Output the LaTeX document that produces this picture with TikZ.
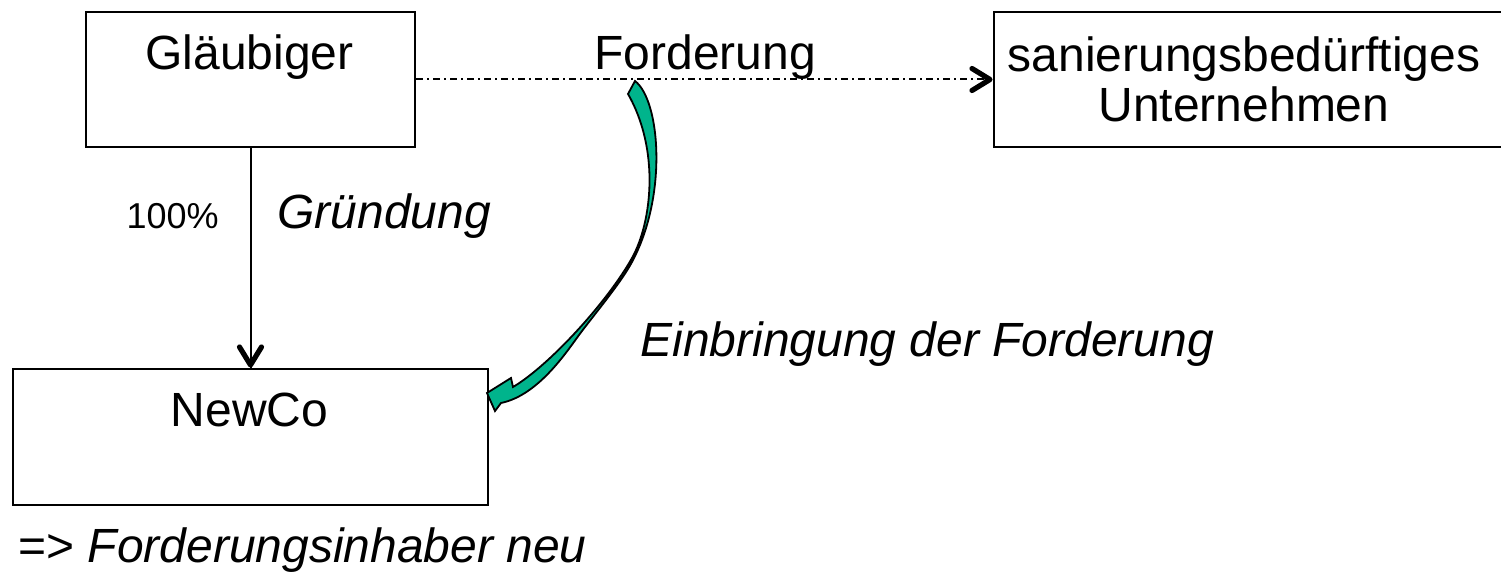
\documentclass[tikz,border=0pt]{standalone}
\usepackage{fontspec}
\setmainfont{Liberation Sans}
\usetikzlibrary{arrows.meta}
\definecolor{arrowgreen}{RGB}{0,180,140}
\begin{document}
\begin{tikzpicture}[x=0.5pt,y=-0.5pt,
  box/.style={draw=black, line width=1pt, inner sep=0pt, anchor=north west},
  lbl/.style={inner sep=0pt, font=\fontsize{24}{28}\selectfont},
  small/.style={inner sep=0pt, font=\fontsize{18}{21}\selectfont},
  tiphead/.style={draw=black, line width=2.6pt, line cap=round, line join=round},
  dashdot/.style={line width=1pt, dash pattern=on 3.5pt off 2pt on 1pt off 2pt}]
\useasboundingbox (0,0) rectangle (1501,576);
% boxes
\node[box, minimum width=164.5pt, minimum height=67.5pt] (g) at (85,11) {};
\node[box, minimum width=237.5pt, minimum height=68pt] (n) at (12,368) {};
\node[box, minimum width=255pt, minimum height=67.5pt] (s) at (993,11) {};
% box texts
\node[lbl, anchor=base] (gt) at (249.5,70) {Gläubiger};
\node[lbl, anchor=base] (nt) at (249.5,427) {NewCo};
\node[lbl, anchor=base] (st1) at (1244,72) {sanierungsbedürftiges};
\node[lbl, anchor=base] (st2) at (1244,122) {Unternehmen};
% labels
\node[lbl, anchor=base west] (ford) at (594,70) {Forderung};
\node[small, anchor=base east] (pct) at (219,229) {100\%};
\node[lbl, anchor=base west] (gruend) at (277,229) {\itshape Gründung};
\node[lbl, anchor=base west] (einbr) at (640,357) {\itshape Einbringung der Forderung};
\node[lbl, anchor=base west] (neu) at (18,563) {=> \itshape Forderungsinhaber neu};
% connectors
\draw[dashdot] (g.east) -- (s.west);
\draw[tiphead] ([shift={(-21,-11)}]s.west) -- ([shift={(-3,0)}]s.west) -- ([shift={(-21,11)}]s.west);
\draw[line width=1pt] (g.south) -- (n.north);
\draw[tiphead] ([shift={(-11,-21)}]n.north) -- ([shift={(0,-3)}]n.north) -- ([shift={(11,-21)}]n.north);
% curved block arrow
\filldraw[fill=arrowgreen, draw=black, line width=0.9pt, line join=miter]
  (635,81)
  .. controls (660,100) and (668,195) .. (632,262)
  .. controls (622,281) and (598,310) .. (582,331)
  .. controls (569,348) and (540,395) .. (501,403)
  -- (495,411) -- (487,393) -- (511,378) -- (513,387)
  .. controls (550,365) and (608,301) .. (632,258)
  .. controls (652,222) and (660,150) .. (628,94)
  -- cycle;
\end{tikzpicture}
\end{document}
